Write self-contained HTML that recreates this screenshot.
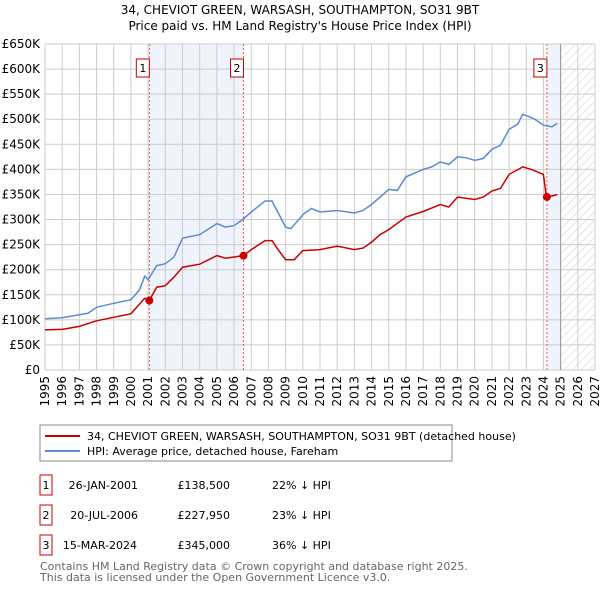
<!DOCTYPE html>
<html><head><meta charset="utf-8"><style>
body{margin:0;background:#fff;font-family:"Liberation Sans","DejaVu Sans",sans-serif;}
svg text{font-family:"DejaVu Sans","Liberation Sans",sans-serif;}
</style></head><body>
<svg id="c" width="600" height="590" xmlns="http://www.w3.org/2000/svg">
<defs><pattern id="hatch" width="6" height="6" patternUnits="userSpaceOnUse" patternTransform="rotate(45)"><line x1="0" y1="0" x2="0" y2="6" stroke="#ccc" stroke-width="1"/></pattern></defs>
<text x="300" y="14" font-size="12" text-anchor="middle">34, CHEVIOT GREEN, WARSASH, SOUTHAMPTON, SO31 9BT</text>
<text x="300" y="30" font-size="12" text-anchor="middle">Price paid vs. HM Land Registry's House Price Index (HPI)</text>
<g id="plot"></g>
<rect x="40" y="425" width="412" height="36" fill="#fff" stroke="#888"/>
<line x1="45" y1="436" x2="80" y2="436" stroke="#cc0000" stroke-width="2"/>
<text x="87" y="440" font-size="11">34, CHEVIOT GREEN, WARSASH, SOUTHAMPTON, SO31 9BT (detached house)</text>
<line x1="45" y1="451" x2="80" y2="451" stroke="#5b8bd0" stroke-width="2"/>
<text x="87" y="455" font-size="11">HPI: Average price, detached house, Fareham</text>
<g font-size="11">
<rect x="40" y="475" width="12" height="20" fill="#fff" stroke="#cc0000"/><text x="46" y="489" text-anchor="middle">1</text>
<text x="138" y="489" text-anchor="end">26-JAN-2001</text><text x="230" y="489" text-anchor="end">£138,500</text><text x="272" y="489">22% ↓ HPI</text>
<rect x="40" y="505" width="12" height="20" fill="#fff" stroke="#cc0000"/><text x="46" y="519" text-anchor="middle">2</text>
<text x="138" y="519" text-anchor="end">20-JUL-2006</text><text x="230" y="519" text-anchor="end">£227,950</text><text x="272" y="519">23% ↓ HPI</text>
<rect x="40" y="535" width="12" height="20" fill="#fff" stroke="#cc0000"/><text x="46" y="549" text-anchor="middle">3</text>
<text x="137" y="549" text-anchor="end">15-MAR-2024</text><text x="230" y="549" text-anchor="end">£345,000</text><text x="272" y="549">36% ↓ HPI</text>
</g>
<text x="40" y="570" font-size="11" fill="#666">Contains HM Land Registry data © Crown copyright and database right 2025.</text>
<text x="40" y="581" font-size="11" fill="#666">This data is licensed under the Open Government Licence v3.0.</text>
</svg>
<script>
const hpiYears=[1995,1996,1997,1997.5,1998,1999,2000,2000.5,2000.8,2001,2001.5,2002,2002.5,2003,2004,2005,2005.5,2006,2006.5,2007,2007.8,2008.2,2008.5,2009,2009.3,2009.9,2010,2010.5,2011,2012,2013,2013.5,2014,2014.5,2015,2015.5,2016,2017,2017.5,2018,2018.5,2019,2019.5,2020,2020.5,2021,2021.5,2022,2022.5,2022.8,2023.5,2024,2024.5,2024.8];
const hpiValues=[102,104,110,113,125,133,140,160,187,180,208,212,225,263,270,292,285,288,300,315,337,337,318,285,282,305,310,322,315,318,313,318,330,345,360,358,385,400,405,415,410,425,423,418,422,440,448,480,490,510,500,488,485,492];
const ppYears=[1995,1996,1997,1998,1999,2000,2000.8,2001.07,2001.5,2002,2002.5,2003,2004,2005,2005.5,2006.55,2007,2007.8,2008.2,2008.5,2009,2009.5,2010,2011,2012,2013,2013.5,2014,2014.5,2015,2016,2017,2018,2018.5,2019,2020,2020.5,2021,2021.5,2022,2022.8,2023.3,2024,2024.17,2024.5,2024.8];
const ppValues=[80,81,87,98,105,112,143,138.5,165,168,185,205,211,228,223,228,240,258,258,243,220,220,238,240,247,240,243,255,270,280,305,316,330,325,345,340,345,357,362,390,405,400,390,345,347,350];
const saleYears=[2001.07,2006.55,2024.2];
const saleValues=[138.5,227.95,345];
const saleLabels=["1","2","3"];
const yTicks=[0,50,100,150,200,250,300,350,400,450,500,550,600,650];
const xTicks=[1995,1996,1997,1998,1999,2000,2001,2002,2003,2004,2005,2006,2007,2008,2009,2010,2011,2012,2013,2014,2015,2016,2017,2018,2019,2020,2021,2022,2023,2024,2025,2026,2027];
const X0=45,X1=595,Y0=370,Y1=44;
const sx=v=>X0+(v-1995)/32*(X1-X0);
const sy=v=>Y0-v/650*(Y0-Y1);
const ns="http://www.w3.org/2000/svg";
const g=document.getElementById('plot');
function mk(t,a,p){const e=document.createElementNS(ns,t);for(const k in a)e.setAttribute(k,a[k]);(p||g).appendChild(e);return e;}
let r=mk('rect',{x:sx(saleYears[0]),y:Y1,width:sx(saleYears[1])-sx(saleYears[0]),height:Y0-Y1,fill:'#eef3fc'});


r=mk('rect',{x:sx(saleYears[2]),y:Y1,width:sx(2025)-sx(saleYears[2]),height:Y0-Y1,fill:'#eef3fc'});


r=mk('rect',{x:sx(2025),y:Y1,width:X1-sx(2025),height:Y0-Y1,fill:'url(#hatch)'});


xTicks.forEach(t=>{const l=mk('line',{x1:sx(t),x2:sx(t),y1:Y1,y2:Y0,stroke:'#ccc'});


const tx=mk('text',{x:0,y:0,'font-size':12,'text-anchor':'end',transform:`translate(${sx(t)+4},${Y0+6}) rotate(-90)`});tx.textContent=t;

});
yTicks.forEach(t=>{const l=mk('line',{x1:X0,x2:X1,y1:sy(t),y2:sy(t),stroke:'#ccc'});


const tx=mk('text',{x:40,y:sy(t)+4,'font-size':12,'text-anchor':'end'});tx.textContent=t===0?'£0':'£'+t+'K';

});
let l=mk('line',{x1:sx(2025),x2:sx(2025),y1:Y1,y2:Y0,stroke:'#999'});


saleYears.forEach((y,i)=>{const d=mk('line',{x1:sx(y),x2:sx(y),y1:Y1,y2:Y0,stroke:'#e55','stroke-dasharray':'2,2'});


const b=mk('rect',{x:sx(y)-13,y:59,width:13,height:18,fill:'#fff',stroke:'#cc0000'});


const t=mk('text',{x:sx(y)-6.5,y:72,'font-size':11,'text-anchor':'middle'});t.textContent=saleLabels[i];

});
const path=(xs,vs)=>xs.map((x,i)=>(i?'L':'M')+sx(x).toFixed(1)+','+sy(vs[i]).toFixed(1)).join('');
let p=mk('path',{d:path(hpiYears,hpiValues),fill:'none',stroke:'#5b8bd0','stroke-width':1.5});


p=mk('path',{d:path(ppYears,ppValues),fill:'none',stroke:'#cc0000','stroke-width':1.5});


saleYears.forEach((y,i)=>{const c=mk('circle',{cx:sx(y),cy:sy(saleValues[i]),r:4,fill:'#cc0000'});

});
</script>
</body></html>
